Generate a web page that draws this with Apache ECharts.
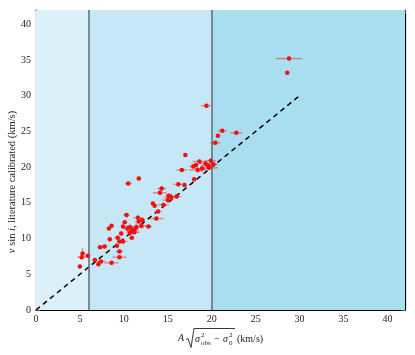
<!DOCTYPE html>
<html>
<head>
<meta charset="utf-8">
<script src="https://cdn.jsdelivr.net/npm/echarts@6/dist/echarts.min.js"></script>
<style>html,body{margin:0;padding:0;background:#fff}#c{width:415px;height:355px}</style>
</head>
<body>
<div id="c"></div>
<script>
// Data
const xVals = [28.8,28.6,19.4,22.8,21.2,20.7,20.4,17.0,18.6,19.9,19.3,17.9,19.6,18.4,18.9,20.2,16.6,18.0,16.9,16.2,11.7,10.5,14.3,14.1,15.4,15.0,16.0,14.5,13.5,13.9,13.7,10.3,11.6,11.7,10.7,11.4,11.0,12.8,9.9,8.6,8.3,9.7,10.7,10.9,9.3,8.4,9.9,9.5,9.2,7.8,7.3,9.5,9.5,5.3,5.2,5.9,6.7,7.4,8.6,7.1,5.0,12.0,10.4,11.2,19.7,18.2,15.1,13.3,12.1,10.1];
const yVals = [35.2,33.2,28.6,24.8,25.1,24.4,23.4,21.7,20.8,20.9,20.5,20.1,20.2,19.6,19.8,20.4,19.6,18.3,17.5,17.6,18.4,17.7,17.0,16.4,15.8,15.4,15.9,14.7,14.6,13.8,12.8,13.3,12.9,12.4,11.6,11.6,11.2,11.7,11.7,11.8,11.4,10.7,10.8,10.1,10.1,9.9,9.6,9.6,9.0,8.9,8.8,8.2,7.4,7.9,7.4,7.6,7.0,6.8,6.6,6.4,6.1,11.8,11.4,10.9,19.9,20.3,16.0,14.9,12.6,12.3];
const xErr = [1.5,0.2,0.6,0.7,0.5,0.2,0.6,0.2,0.8,0.6,0.7,0.5,0.8,1.0,0.8,0.5,0.6,0.2,0.2,0.6,0.2,0.4,0.5,0.8,0.8,0.6,0.5,0.6,0.2,0.4,0.8,0.4,0.5,0.4,0.5,0.8,0.7,0.4,0.2,0.2,0.2,0.3,0.4,0.3,0.4,0.2,0.5,0.3,0.3,0.3,0.3,0.4,0.8,0.2,0.5,0.3,0.3,0.5,0.8,0.2,0.2,0.6,0.5,0.6,1.0,0.3,0.3,0.2,0.3,0.3];
const yErr = [0.3,0.2,0.3,0.2,0.2,0.2,0.2,0.2,0.3,0.3,0.4,0.3,0.3,0.4,0.5,0.2,0.2,0.2,0.2,0.3,0.2,0.2,0.3,0.2,0.5,0.4,0.3,0.2,0.2,0.2,0.2,0.2,0.4,0.3,0.5,0.6,0.5,0.2,0.2,0.2,0.2,0.3,0.4,0.2,0.3,0.2,0.3,0.2,0.3,0.2,0.2,0.2,0.2,0.8,0.3,0.2,0.2,0.2,0.2,0.2,0.2,0.4,0.5,0.3,0.3,0.3,0.3,0.2,0.3,0.2];
const oneToOne = [[0,0],[30,30]];
const bandEdges = [0,6,20,42];

const FONT = 'Liberation Serif';
const points = xVals.map((x,i)=>[x,yVals[i]]);
const errData = xVals.map((x,i)=>[x,yVals[i],xErr[i],yErr[i]]);

const chart = echarts.init(document.getElementById('c'), null, {renderer:'canvas'});
const axisCommon = {
  type:'value', min:0, max:42, interval:5,
  splitLine:{show:false},
  axisLine:{show:true, onZero:false, lineStyle:{color:'#000', width:1.2}},
  axisTick:{show:true, inside:true, length:4, lineStyle:{color:'#444', width:1}},
};
chart.setOption({
  animation:false,
  grid:{left:36, right:10, top:10, bottom:45, containLabel:false, outerBoundsMode:'none'},
  xAxis:[
    Object.assign({}, axisCommon, {position:'bottom',
      axisLabel:{show:true, showMaxLabel:false, fontFamily:FONT, fontSize:10, color:'#222', margin:4}}),
    Object.assign({}, axisCommon, {position:'top', axisLabel:{show:false}})
  ],
  yAxis:[
    Object.assign({}, axisCommon, {position:'left',
      axisLabel:{show:true, showMaxLabel:false, fontFamily:FONT, fontSize:10, color:'#222', margin:5}}),
    Object.assign({}, axisCommon, {position:'right', axisLabel:{show:false}})
  ],
  graphic:[
    {type:'text', x:12, y:182, rotation:Math.PI/2,
      style:{text:'{it|v} sin {it|i}, literature calibrated (km/s)', align:'center', verticalAlign:'middle',
        font:'10.5px '+FONT, fill:'#222',
        rich:{it:{fontFamily:FONT, fontStyle:'italic', fontSize:10.5, fill:'#222', color:'#222'}}}},
    {type:'group', left:178, top:326, children:[
      {type:'text', x:0, y:6, style:{text:'A', font:'italic 10px '+FONT, fill:'#222'}},
      {type:'polyline', shape:{points:[[8,12],[10,11],[13,20],[16,1],[57,1]]}, style:{stroke:'#222', lineWidth:0.9, fill:null}},
      {type:'text', x:17, y:7, style:{text:'σ', font:'italic 10px '+FONT, fill:'#222'}},
      {type:'text', x:23, y:4, style:{text:'2', font:'7px '+FONT, fill:'#222'}},
      {type:'text', x:23, y:12, style:{text:'obs', font:'7px '+FONT, fill:'#222'}},
      {type:'text', x:36, y:7, style:{text:'−', font:'10px '+FONT, fill:'#222'}},
      {type:'text', x:45, y:7, style:{text:'σ', font:'italic 10px '+FONT, fill:'#222'}},
      {type:'text', x:51, y:4, style:{text:'2', font:'7px '+FONT, fill:'#222'}},
      {type:'text', x:51, y:12, style:{text:'0', font:'7px '+FONT, fill:'#222'}},
      {type:'text', x:59, y:7, style:{text:'(km/s)', font:'10px '+FONT, fill:'#222'}}
    ]}
  ],
  series:[
    {type:'line', data:[], z:0, silent:true,
      markArea:{silent:true, data:[
        [{xAxis:bandEdges[0], itemStyle:{color:'#dcf0f9'}},{xAxis:bandEdges[1]}],
        [{xAxis:bandEdges[1], itemStyle:{color:'#c6e7f5'}},{xAxis:bandEdges[2]}],
        [{xAxis:bandEdges[2], itemStyle:{color:'#a9ddf0'}},{xAxis:bandEdges[3]}]
      ]},
      markLine:{silent:true, symbol:'none', label:{show:false},
        lineStyle:{color:'#5d6b73', width:1.5, type:'solid'},
        data:[{xAxis:bandEdges[1]},{xAxis:bandEdges[2]}]}
    },
    {type:'line', data:oneToOne, z:3, symbol:'none', silent:true,
      lineStyle:{color:'#000', width:1.5, type:[5,4]}},
    {type:'custom', z:4, silent:true, data:errData,
      renderItem:function(params, api){
        const x=api.value(0), y=api.value(1), xe=api.value(2), ye=api.value(3);
        const a=api.coord([x-xe,y]), b=api.coord([x+xe,y]);
        const c=api.coord([x,y-ye]), d=api.coord([x,y+ye]);
        const st={stroke:'rgba(240,40,40,0.55)', lineWidth:1.3};
        return {type:'group', children:[
          {type:'line', shape:{x1:a[0],y1:a[1],x2:b[0],y2:b[1]}, style:st},
          {type:'line', shape:{x1:c[0],y1:c[1],x2:d[0],y2:d[1]}, style:st}
        ]};
      }},
    {type:'scatter', z:5, data:points, symbol:'circle', symbolSize:4.5,
      itemStyle:{color:'#f01010', opacity:1}}
  ]
});
</script>
</body>
</html>
